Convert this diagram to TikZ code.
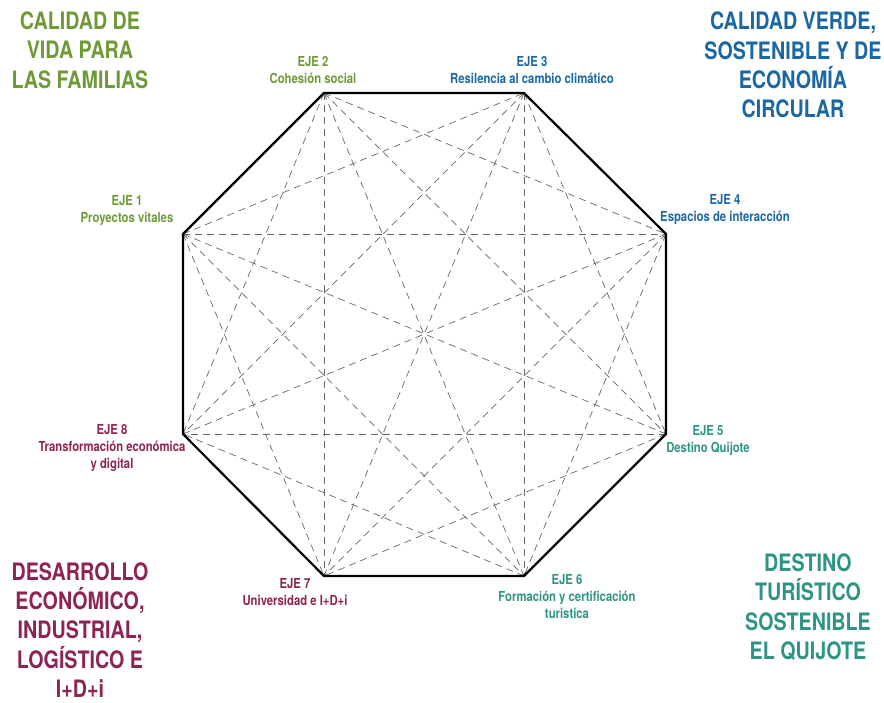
\documentclass[tikz,border=0pt]{standalone}
\usepackage{fontspec}
\setmainfont{TeX Gyre Heros}[FakeStretch=0.82]
\usepackage{tikz}
\definecolor{ejegreen}{HTML}{6F9A37}
\definecolor{ejeblue}{HTML}{1A67A3}
\definecolor{ejered}{HTML}{8E2452}
\definecolor{ejeteal}{HTML}{2E9585}
\tikzstyle{axis} = [font=\fontsize{13.8}{17}\selectfont\bfseries, align=center, inner sep=0pt]
\tikzstyle{area} = [font=\fontsize{24}{29.3}\selectfont\bfseries, align=center, inner sep=0pt]
\tikzstyle{diag} = [gray!80!black, line width=.7pt, dash pattern=on 7pt off 5pt]
\newcommand{\ejelabel}[5]{\node [axis, text=#2] (#1) at (#3,#4) {#5};}

\begin{document}
\begin{tikzpicture}[x=1pt, y=-1pt]
			\useasboundingbox (0,0) rectangle (884,702);
			% octagon corners
			\coordinate (v1) at (183,234);
			\coordinate (v2) at (324,93);
			\coordinate (v3) at (524,93);
			\coordinate (v4) at (666,234);
			\coordinate (v5) at (666,434);
			\coordinate (v6) at (524,576);
			\coordinate (v7) at (324,576);
			\coordinate (v8) at (183,434);
			\foreach \i in {1,...,8} {
				\foreach \j in {1,...,8} {
					\pgfmathtruncatemacro{\d}{\j-\i}
					\ifnum\d>1 \ifnum\d<7
						\draw[diag] (v\i) -- (v\j);
					\fi\fi
				}
			}
			\draw[line width=2.2pt, line join=miter] (v1) -- (v2) -- (v3) -- (v4) -- (v5) -- (v6) -- (v7) -- (v8) -- cycle;
			% axes
			\ejelabel{eje1}{ejegreen}{127}{210}{EJE 1\\Proyectos vitales}
			\ejelabel{eje2}{ejegreen}{313}{70}{EJE 2\\Cohesión social}
			\ejelabel{eje3}{ejeblue}{532}{70}{EJE 3\\Resilencia al cambio climático}
			\ejelabel{eje4}{ejeblue}{725}{209}{EJE 4\\Espacios de interacción}
			\ejelabel{eje5}{ejeteal}{708}{440}{EJE 5\\Destino Quijote}
			\ejelabel{eje6}{ejeteal}{567}{597}{EJE 6\\Formación y certificación\\turistica}
			\ejelabel{eje7}{ejered}{295}{592}{EJE 7\\Universidad e I+D+i}
			\ejelabel{eje8}{ejered}{112}{448}{EJE 8\\Transformación económica\\y digital}
			% areas
			\node [area, text=ejegreen] (vida) at (80,50) {CALIDAD DE\\VIDA PARA\\LAS FAMILIAS};
			\node [area, text=ejeblue] (verde) at (793,65) {CALIDAD VERDE,\\SOSTENIBLE Y DE\\ECONOMÍA\\CIRCULAR};
			\node [area, text=ejered] (desarrollo) at (80,630) {DESARROLLO\\ECONÓMICO,\\INDUSTRIAL,\\LOGÍSTICO E\\I+D+i};
			\node [area, text=ejeteal] (destino) at (808,607) {DESTINO\\TURÍSTICO\\SOSTENIBLE\\EL QUIJOTE};
		\end{tikzpicture}
\end{document}
